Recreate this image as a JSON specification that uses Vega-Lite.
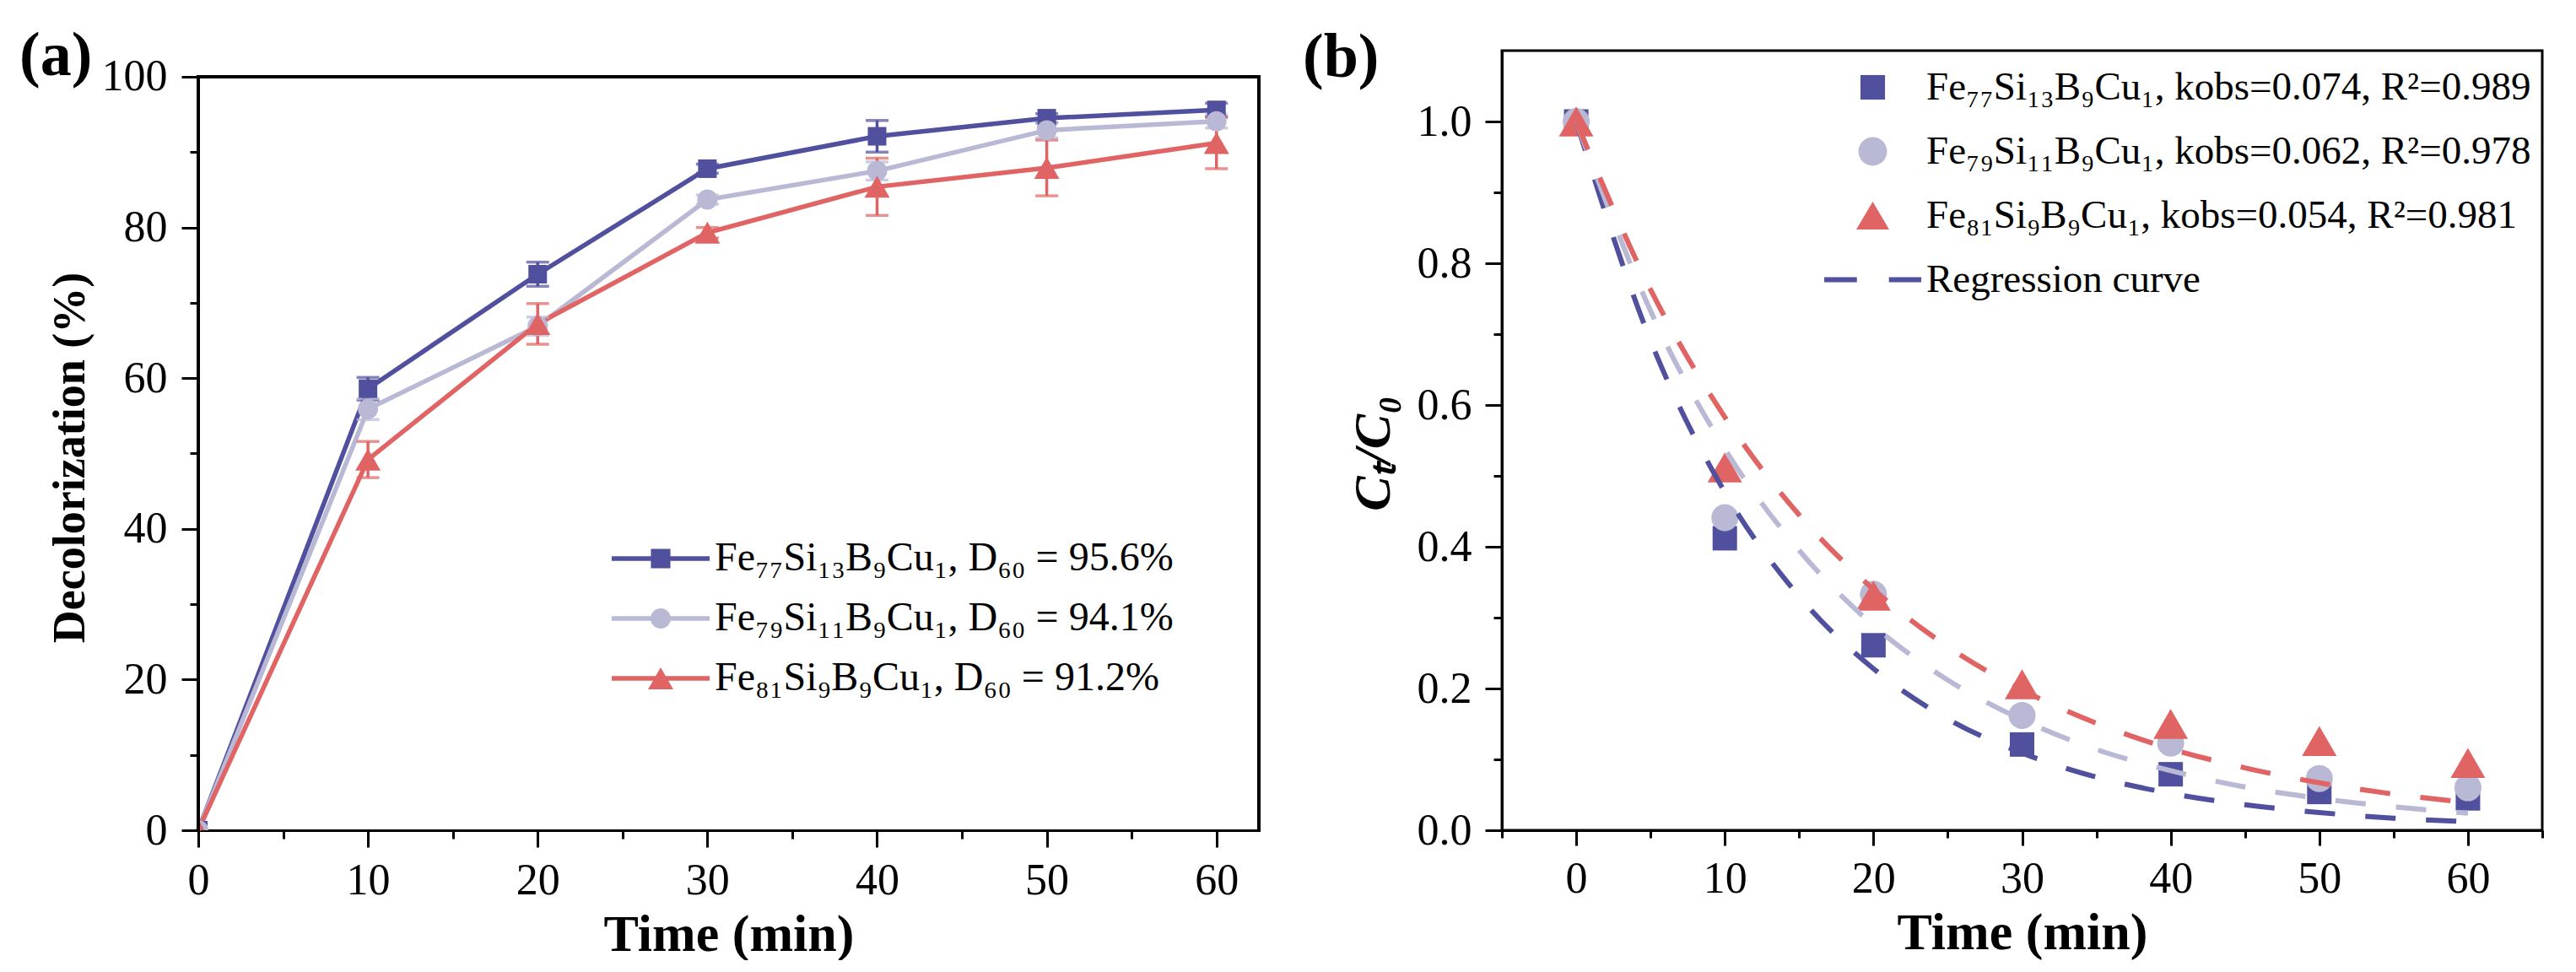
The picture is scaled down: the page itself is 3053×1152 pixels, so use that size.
{
  "$schema": "https://vega.github.io/schema/vega-lite/v6.json",
  "background": "white",
  "padding": {"left": 23, "top": 30, "right": 0, "bottom": 0},
  "columns": 2,
  "spacing": 47,
  "config": {
    "view": {"stroke": "black", "strokeWidth": 3},
    "font": "Liberation Serif",
    "axis": {
      "grid": false,
      "domainColor": "black",
      "domainWidth": 3,
      "tickColor": "black",
      "tickWidth": 3,
      "labelFont": "Liberation Serif",
      "labelFontSize": 52,
      "labelColor": "black",
      "titleFont": "Liberation Serif",
      "titleFontWeight": "bold",
      "titleColor": "black",
      "labelFlush": false,
      "labelOverlap": false,
      "labelBound": false
    },
    "legend": {"labelFont": "Liberation Serif", "labelColor": "black", "padding": 0, "labelLimit": 0},
    "title": {"font": "Liberation Serif", "fontWeight": "bold", "fontSize": 74, "color": "black", "anchor": "start", "frame": "group", "offset": 0, "baseline": "alphabetic"}
  },
  "datasets": {
    "decol": [
      {"series": "Fe77", "t": 0, "val": 0, "err": 0},
      {"series": "Fe77", "t": 10, "val": 58.6, "err": 1.5},
      {"series": "Fe77", "t": 20, "val": 73.8, "err": 1.6},
      {"series": "Fe77", "t": 30, "val": 87.8, "err": 0.6},
      {"series": "Fe77", "t": 40, "val": 92.1, "err": 2.1},
      {"series": "Fe77", "t": 50, "val": 94.5, "err": 0.6},
      {"series": "Fe77", "t": 60, "val": 95.6, "err": 0.9},
      {"series": "Fe79", "t": 0, "val": 0, "err": 0},
      {"series": "Fe79", "t": 10, "val": 55.9, "err": 1.4},
      {"series": "Fe79", "t": 20, "val": 66.9, "err": 1.2},
      {"series": "Fe79", "t": 30, "val": 83.7, "err": 0.6},
      {"series": "Fe79", "t": 40, "val": 87.5, "err": 1.2},
      {"series": "Fe79", "t": 50, "val": 92.9, "err": 1.0},
      {"series": "Fe79", "t": 60, "val": 94.1, "err": 0.9},
      {"series": "Fe81", "t": 0, "val": 0, "err": 0},
      {"series": "Fe81", "t": 10, "val": 49.2, "err": 2.4},
      {"series": "Fe81", "t": 20, "val": 67.2, "err": 2.7},
      {"series": "Fe81", "t": 30, "val": 79.3, "err": 0.7},
      {"series": "Fe81", "t": 40, "val": 85.4, "err": 3.8},
      {"series": "Fe81", "t": 50, "val": 87.9, "err": 3.7},
      {"series": "Fe81", "t": 60, "val": 91.2, "err": 3.4}
    ],
    "kin": [
      {"series": "Fe77", "t": 0, "c": 1.0},
      {"series": "Fe77", "t": 10, "c": 0.412},
      {"series": "Fe77", "t": 20, "c": 0.261},
      {"series": "Fe77", "t": 30, "c": 0.121},
      {"series": "Fe77", "t": 40, "c": 0.079},
      {"series": "Fe77", "t": 50, "c": 0.054},
      {"series": "Fe77", "t": 60, "c": 0.045},
      {"series": "Fe79", "t": 0, "c": 1.0},
      {"series": "Fe79", "t": 10, "c": 0.441},
      {"series": "Fe79", "t": 20, "c": 0.333},
      {"series": "Fe79", "t": 30, "c": 0.162},
      {"series": "Fe79", "t": 40, "c": 0.123},
      {"series": "Fe79", "t": 50, "c": 0.073},
      {"series": "Fe79", "t": 60, "c": 0.060},
      {"series": "Fe81", "t": 0, "c": 1.0},
      {"series": "Fe81", "t": 10, "c": 0.512},
      {"series": "Fe81", "t": 20, "c": 0.331},
      {"series": "Fe81", "t": 30, "c": 0.206},
      {"series": "Fe81", "t": 40, "c": 0.150},
      {"series": "Fe81", "t": 50, "c": 0.126},
      {"series": "Fe81", "t": 60, "c": 0.095}
    ],
    "fit": [
      {"series": "Fe77", "t": 0, "c": 1.0},
      {"series": "Fe77", "t": 5, "c": 0.691},
      {"series": "Fe77", "t": 10, "c": 0.477},
      {"series": "Fe77", "t": 15, "c": 0.330},
      {"series": "Fe77", "t": 20, "c": 0.228},
      {"series": "Fe77", "t": 25, "c": 0.157},
      {"series": "Fe77", "t": 30, "c": 0.109},
      {"series": "Fe77", "t": 35, "c": 0.075},
      {"series": "Fe77", "t": 40, "c": 0.052},
      {"series": "Fe77", "t": 45, "c": 0.036},
      {"series": "Fe77", "t": 50, "c": 0.025},
      {"series": "Fe77", "t": 55, "c": 0.017},
      {"series": "Fe77", "t": 60, "c": 0.012},
      {"series": "Fe79", "t": 0, "c": 1.0},
      {"series": "Fe79", "t": 5, "c": 0.733},
      {"series": "Fe79", "t": 10, "c": 0.538},
      {"series": "Fe79", "t": 15, "c": 0.395},
      {"series": "Fe79", "t": 20, "c": 0.289},
      {"series": "Fe79", "t": 25, "c": 0.212},
      {"series": "Fe79", "t": 30, "c": 0.156},
      {"series": "Fe79", "t": 35, "c": 0.114},
      {"series": "Fe79", "t": 40, "c": 0.084},
      {"series": "Fe79", "t": 45, "c": 0.061},
      {"series": "Fe79", "t": 50, "c": 0.045},
      {"series": "Fe79", "t": 55, "c": 0.033},
      {"series": "Fe79", "t": 60, "c": 0.024},
      {"series": "Fe81", "t": 0, "c": 1.0},
      {"series": "Fe81", "t": 5, "c": 0.763},
      {"series": "Fe81", "t": 10, "c": 0.583},
      {"series": "Fe81", "t": 15, "c": 0.445},
      {"series": "Fe81", "t": 20, "c": 0.340},
      {"series": "Fe81", "t": 25, "c": 0.259},
      {"series": "Fe81", "t": 30, "c": 0.198},
      {"series": "Fe81", "t": 35, "c": 0.151},
      {"series": "Fe81", "t": 40, "c": 0.115},
      {"series": "Fe81", "t": 45, "c": 0.088},
      {"series": "Fe81", "t": 50, "c": 0.067},
      {"series": "Fe81", "t": 55, "c": 0.051},
      {"series": "Fe81", "t": 60, "c": 0.039}
    ]
  },
  "resolve": {
    "scale": {"x": "independent", "y": "independent", "color": "independent", "shape": "independent"},
    "legend": {"color": "independent", "shape": "independent"}
  },
  "concat": [
    {
      "width": 1257,
      "height": 924,
      "view": {"stroke": null},
      "title": {"text": "(a)", "dx": -212, "dy": 49},
      "data": {"name": "decol"},
      "resolve": {"axis": {"x": "independent", "y": "independent"}},
      "layer": [
        {
          "transform": [{"filter": "false"}],
          "mark": {"type": "point", "filled": true, "opacity": 1},
          "encoding": {
            "x": {
              "field": "t", "type": "quantitative",
              "scale": {"domain": [0, 62.5], "nice": false, "zero": false},
              "axis": {"orient": "bottom", "values": [5, 15, 25, 35, 45, 55], "tickSize": 10, "labels": false, "domain": false, "title": null}
            },
            "y": {
              "field": "val", "type": "quantitative",
              "scale": {"domain": [0, 103.47], "nice": false},
              "axis": {"orient": "left", "values": [10, 30, 50, 70, 90], "tickSize": 10, "labels": false, "domain": false, "title": null}
            },
            "color": {
              "field": "series", "type": "nominal",
              "scale": {"domain": ["Fe77", "Fe79", "Fe81"], "range": ["#50509E", "#B9B9D6", "#E06464"]},
              "legend": {
                "title": null,
                "orient": "none",
                "legendX": 524,
                "legendY": 578,
                "labelFontSize": 48,
                "labelOffset": 40,
                "rowPadding": 23,
                "symbolSize": 900,
                "symbolStrokeWidth": 0,
                "labelExpr": "datum.value === 'Fe77' ? 'Fe₇₇Si₁₃B₉Cu₁, D₆₀ = 95.6%' : datum.value === 'Fe79' ? 'Fe₇₉Si₁₁B₉Cu₁, D₆₀ = 94.1%' : 'Fe₈₁Si₉B₉Cu₁, D₆₀ = 91.2%'"
              }
            },
            "shape": {
              "field": "series", "type": "nominal",
              "scale": {
                "domain": ["Fe77", "Fe79", "Fe81"],
                "range": [
                  "M-3.87,-0.18H3.87V0.18H-3.87Z M-0.77,-0.77H0.77V0.77H-0.77Z",
                  "M-3.87,-0.18H3.87V0.18H-3.87Z M-0.8,0A0.8,0.8 0 1,1 0.8,0A0.8,0.8 0 1,1 -0.8,0Z",
                  "M-3.87,-0.18H3.87V0.18H-3.87Z M0,-0.87L1,0.87L-1,0.87Z"
                ]
              },
              "legend": null
            }
          }
        },
        {
          "transform": [{"filter": "datum.series === 'Fe77'"}],
          "mark": {"type": "line", "strokeWidth": 5.5, "color": "#50509E"},
          "encoding": {
            "x": {
              "field": "t", "type": "quantitative",
              "axis": {"orient": "bottom", "values": [0, 10, 20, 30, 40, 50, 60], "tickSize": 20, "labelPadding": 14, "title": "Time (min)", "titleFontSize": 62, "titlePadding": 8}
            },
            "y": {
              "field": "val", "type": "quantitative",
              "axis": {"orient": "left", "values": [0, 20, 40, 60, 80, 100], "tickSize": 20, "labelPadding": 17, "domain": false, "title": "Decolorization (%)", "titleFontSize": 54, "titlePadding": 10, "titleY": 482}
            }
          }
        },
        {
          "transform": [{"filter": "datum.series === 'Fe79'"}],
          "mark": {"type": "line", "strokeWidth": 5.5, "color": "#B9B9D6"},
          "encoding": {
            "x": {"field": "t", "type": "quantitative", "axis": null},
            "y": {"field": "val", "type": "quantitative", "axis": null}
          }
        },
        {
          "transform": [{"filter": "datum.series === 'Fe81'"}],
          "mark": {"type": "line", "strokeWidth": 5.5, "color": "#E06464"},
          "encoding": {
            "x": {"field": "t", "type": "quantitative", "axis": null},
            "y": {"field": "val", "type": "quantitative", "axis": null}
          }
        },
        {
          "transform": [{"filter": "datum.series === 'Fe77' && datum.err > 0"}],
          "mark": {"type": "errorbar", "ticks": true, "size": 27, "thickness": 3.5, "color": "#50509E"},
          "encoding": {
            "x": {"field": "t", "type": "quantitative", "axis": null},
            "y": {"field": "val", "type": "quantitative", "axis": null},
            "yError": {"field": "err"}
          }
        },
        {
          "transform": [{"filter": "datum.series === 'Fe79' && datum.err > 0"}],
          "mark": {"type": "errorbar", "ticks": true, "size": 27, "thickness": 3.5, "color": "#B9B9D6"},
          "encoding": {
            "x": {"field": "t", "type": "quantitative", "axis": null},
            "y": {"field": "val", "type": "quantitative", "axis": null},
            "yError": {"field": "err"}
          }
        },
        {
          "transform": [{"filter": "datum.series === 'Fe81' && datum.err > 0"}],
          "mark": {"type": "errorbar", "ticks": true, "size": 27, "thickness": 3.5, "color": "#E06464"},
          "encoding": {
            "x": {"field": "t", "type": "quantitative", "axis": null},
            "y": {"field": "val", "type": "quantitative", "axis": null},
            "yError": {"field": "err"}
          }
        },
        {
          "transform": [{"filter": "datum.series === 'Fe77'"}],
          "mark": {"type": "point", "shape": "square", "size": 484, "filled": true, "opacity": 1, "color": "#50509E", "clip": true},
          "encoding": {
            "x": {"field": "t", "type": "quantitative", "axis": null},
            "y": {"field": "val", "type": "quantitative", "axis": null}
          }
        },
        {
          "transform": [{"filter": "datum.series === 'Fe79'"}],
          "mark": {"type": "point", "shape": "circle", "size": 576, "filled": true, "opacity": 1, "color": "#B9B9D6", "clip": true},
          "encoding": {
            "x": {"field": "t", "type": "quantitative", "axis": null},
            "y": {"field": "val", "type": "quantitative", "axis": null}
          }
        },
        {
          "transform": [{"filter": "datum.series === 'Fe81'"}],
          "mark": {"type": "point", "shape": "triangle-up", "size": 900, "filled": true, "opacity": 1, "color": "#E06464", "clip": true},
          "encoding": {
            "x": {"field": "t", "type": "quantitative", "axis": null},
            "y": {"field": "val", "type": "quantitative", "axis": null}
          }
        },
        {
          "mark": {"type": "rule", "strokeWidth": 3, "color": "black", "strokeCap": "square"},
          "encoding": {
            "x": {"datum": 0, "type": "quantitative", "axis": null},
            "y": {"datum": 0, "type": "quantitative", "axis": null},
            "y2": {"datum": 100}
          }
        },
        {
          "mark": {"type": "rule", "strokeWidth": 3, "color": "black", "strokeCap": "square"},
          "encoding": {
            "x": {"datum": 62.5, "type": "quantitative", "axis": null},
            "y": {"datum": 0, "type": "quantitative", "axis": null},
            "y2": {"datum": 100}
          }
        },
        {
          "mark": {"type": "rule", "strokeWidth": 3, "color": "black", "strokeCap": "square"},
          "encoding": {
            "x": {"datum": 0, "type": "quantitative", "axis": null},
            "x2": {"datum": 62.5},
            "y": {"datum": 100, "type": "quantitative", "axis": null}
          }
        }
      ]
    },
    {
      "width": 1233,
      "height": 924,
      "title": {"text": "(b)", "dx": -236, "dy": 51},
      "resolve": {"axis": {"x": "independent", "y": "independent"}},
      "layer": [
        {
          "data": {"name": "kin"},
          "transform": [{"filter": "false"}],
          "mark": {"type": "point", "filled": true, "opacity": 1},
          "encoding": {
            "x": {"field": "t", "type": "quantitative", "scale": {"domain": [-5, 65], "nice": false, "zero": false}, "axis": null},
            "y": {"field": "c", "type": "quantitative", "scale": {"domain": [0, 1.1], "nice": false}, "axis": null},
            "color": {
              "field": "series", "type": "nominal",
              "scale": {"domain": ["Fe77", "Fe79", "Fe81", "fit"], "range": ["#50509E", "#B9B9D6", "#E06464", "#50509E"]},
              "legend": {
                "title": null,
                "orient": "none",
                "legendX": 416,
                "legendY": 20,
                "labelFontSize": 47,
                "labelOffset": 40,
                "rowPadding": 28,
                "symbolSize": 900,
                "symbolStrokeWidth": 0,
                "labelExpr": "datum.value === 'Fe77' ? 'Fe₇₇Si₁₃B₉Cu₁, kobs=0.074, R²=0.989' : datum.value === 'Fe79' ? 'Fe₇₉Si₁₁B₉Cu₁, kobs=0.062, R²=0.978' : datum.value === 'Fe81' ? 'Fe₈₁Si₉B₉Cu₁, kobs=0.054, R²=0.981' : 'Regression curve'"
              }
            },
            "shape": {
              "field": "series", "type": "nominal",
              "scale": {
                "domain": ["Fe77", "Fe79", "Fe81", "fit"],
                "range": [
                  "M-0.97,-0.97H0.97V0.97H-0.97Z",
                  "M-1.13,0A1.13,1.13 0 1,1 1.13,0A1.13,1.13 0 1,1 -1.13,0Z",
                  "M0,-1.1L1.3,1.1L-1.3,1.1Z",
                  "M-3.83,-0.2H-1.25V0.2H-3.83Z M1.28,-0.2H3.83V0.2H1.28Z"
                ]
              },
              "legend": null
            }
          }
        },
        {
          "data": {"name": "kin"},
          "transform": [{"filter": "datum.series === 'Fe77'"}],
          "mark": {"type": "point", "shape": "square", "size": 841, "filled": true, "opacity": 1, "color": "#50509E"},
          "encoding": {
            "x": {
              "field": "t", "type": "quantitative",
              "axis": {"orient": "bottom", "values": [0, 10, 20, 30, 40, 50, 60], "tickSize": 18, "labelPadding": 14, "title": "Time (min)", "titleFontSize": 62, "titlePadding": 8}
            },
            "y": {
              "field": "c", "type": "quantitative",
              "axis": {"orient": "left", "values": [0, 0.2, 0.4, 0.6, 0.8, 1.0], "format": ".1f", "tickSize": 20, "labelPadding": 16, "title": "Cₜ/C₀", "titleFontSize": 62, "titleFontStyle": "italic", "titlePadding": 20, "titleY": 477}
            }
          }
        },
        {
          "data": {"name": "kin"},
          "transform": [{"filter": "datum.series === 'Fe79'"}],
          "mark": {"type": "point", "shape": "circle", "size": 1024, "filled": true, "opacity": 1, "color": "#B9B9D6"},
          "encoding": {
            "x": {"field": "t", "type": "quantitative", "axis": null},
            "y": {"field": "c", "type": "quantitative", "axis": null}
          }
        },
        {
          "data": {"name": "kin"},
          "transform": [{"filter": "datum.series === 'Fe81'"}],
          "mark": {"type": "point", "shape": "triangle-up", "size": 1681, "filled": true, "opacity": 1, "color": "#E06464"},
          "encoding": {
            "x": {"field": "t", "type": "quantitative", "axis": null},
            "y": {"field": "c", "type": "quantitative", "axis": null}
          }
        },
        {
          "data": {"name": "fit"},
          "transform": [{"filter": "datum.series === 'Fe77'"}],
          "mark": {"type": "line", "strokeWidth": 6, "strokeDash": [36, 36], "interpolate": "monotone", "color": "#50509E"},
          "encoding": {
            "x": {
              "field": "t", "type": "quantitative",
              "axis": {"orient": "bottom", "values": [-5, 5, 15, 25, 35, 45, 55, 65], "tickSize": 9, "labels": false, "domain": false, "title": null}
            },
            "y": {
              "field": "c", "type": "quantitative",
              "axis": {"orient": "left", "values": [0.1, 0.3, 0.5, 0.7, 0.9], "tickSize": 10, "labels": false, "domain": false, "title": null}
            }
          }
        },
        {
          "data": {"name": "fit"},
          "transform": [{"filter": "datum.series === 'Fe79'"}],
          "mark": {"type": "line", "strokeWidth": 6, "strokeDash": [36, 36], "interpolate": "monotone", "color": "#B9B9D6"},
          "encoding": {
            "x": {"field": "t", "type": "quantitative", "axis": null},
            "y": {"field": "c", "type": "quantitative", "axis": null}
          }
        },
        {
          "data": {"name": "fit"},
          "transform": [{"filter": "datum.series === 'Fe81'"}],
          "mark": {"type": "line", "strokeWidth": 6, "strokeDash": [36, 36], "interpolate": "monotone", "color": "#E06464"},
          "encoding": {
            "x": {"field": "t", "type": "quantitative", "axis": null},
            "y": {"field": "c", "type": "quantitative", "axis": null}
          }
        }
      ]
    }
  ]
}
